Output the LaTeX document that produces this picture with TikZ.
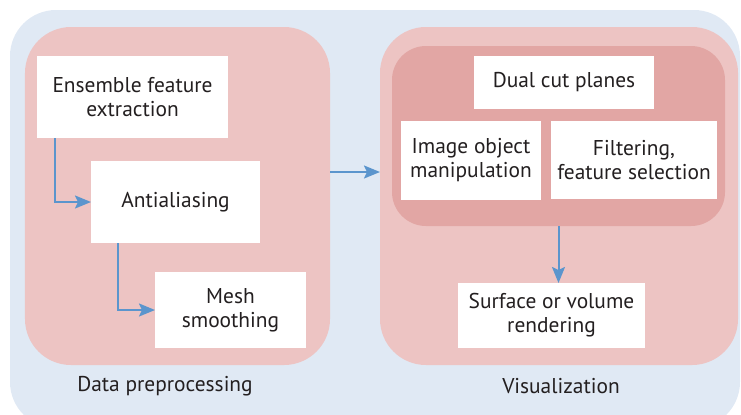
\documentclass[tikz,border=0pt]{standalone}
\usepackage{fontspec}
\setmainfont{PT Sans}
\usetikzlibrary{arrows.meta}
\definecolor{bgblue}{HTML}{E0E9F4}
\definecolor{grppink}{HTML}{EDC4C3}
\definecolor{innerpink}{HTML}{E2A6A4}
\definecolor{flowblue}{HTML}{5B95CD}
\definecolor{inkgray}{HTML}{231F20}
\begin{document}
\begin{tikzpicture}[x=1bp,y=-1bp,
  every node/.style={inner sep=0pt, outer sep=0pt},
  group/.style={fill=grppink, rounded corners=46bp},
  subgroup/.style={fill=innerpink, rounded corners=34bp},
  stepbox/.style={fill=white, align=center, text=inkgray, font=\fontsize{21.5}{24}\selectfont},
  caption/.style={text=inkgray, font=\fontsize{21.5}{24}\selectfont},
  flow/.style={draw=flowblue, line width=2bp, -{Stealth[length=16bp,width=13bp,inset=3bp]}}]
\useasboundingbox (0,0) rectangle (741,414);
% outer background panel
\begin{scope}
  \clip (0,0) rectangle (741,414);
  \fill[bgblue, rounded corners=46bp] (10,10) rectangle (740,428);
\end{scope}
% stage groups
\node[group, minimum width=305bp, minimum height=338bp] (grpL) at (177.5,196) {};
\node[group, minimum width=358bp, minimum height=338bp] (grpR) at (559,196) {};
\node[subgroup, minimum width=333bp, minimum height=180bp] (inner) at (558.5,136) {};
% preprocessing steps
\node[stepbox, minimum width=191bp, minimum height=82bp] (ens) at (132.5,97) {Ensemble feature\\extraction};
\node[stepbox, minimum width=169bp, minimum height=82bp] (anti) at (175.5,202) {Antialiasing};
\node[stepbox, minimum width=151bp, minimum height=76bp] (mesh) at (230.5,310) {Mesh\\smoothing};
% visualization steps
\node[stepbox, minimum width=180bp, minimum height=53bp] (dual) at (564,82.5) {Dual cut planes};
\node[stepbox, minimum width=140bp, minimum height=79bp] (img) at (471,160.5) {Image object\\manipulation};
\node[stepbox, minimum width=166bp, minimum height=78bp] (filt) at (634,160) {Filtering,\\feature selection};
\node[stepbox, minimum width=187bp, minimum height=65bp] (surf) at (551.5,315.5) {Surface or volume\\rendering};
% captions
\node[caption] (capL) at (165,386) {Data preprocessing};
\node[caption] (capR) at (561,386) {Visualization};
% connectors
\draw[flow] ([xshift=18bp]ens.south west) |- (anti.west);
\draw[flow] ([xshift=27bp]anti.south west) |- (mesh.west);
\draw[flow] ([yshift=24bp]grpL.east) -- ([yshift=24bp]grpR.west);
\draw[flow] (inner.south) -- (inner.south |- surf.north);
\end{tikzpicture}
\end{document}
